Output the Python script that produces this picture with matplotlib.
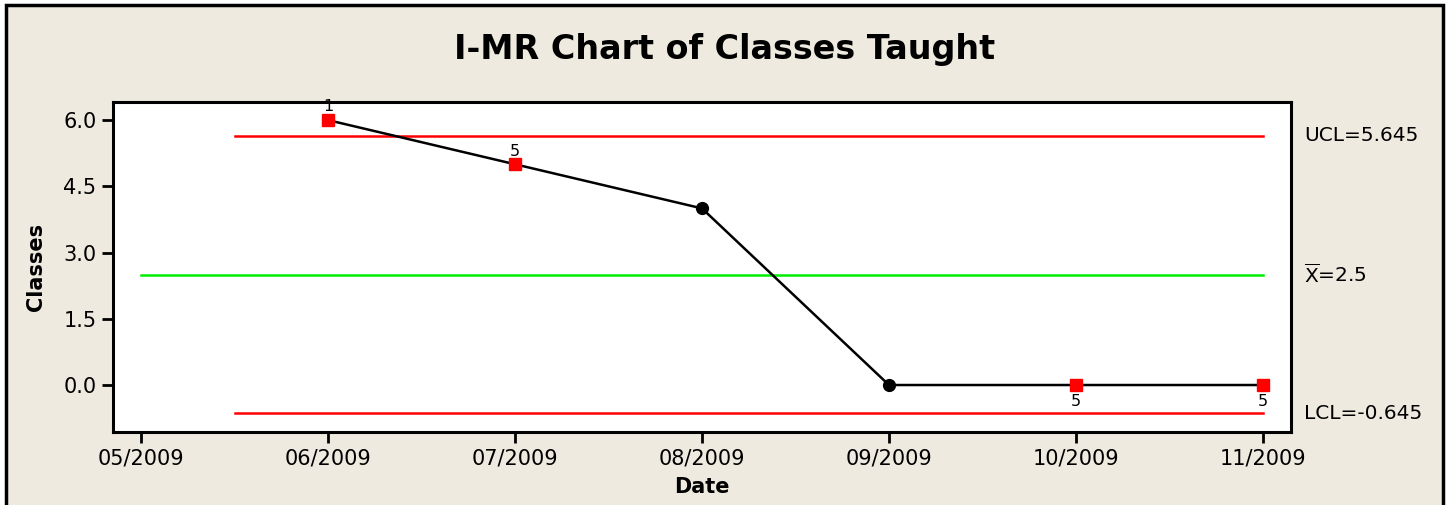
import matplotlib
matplotlib.use("Agg")
import matplotlib.pyplot as plt
from matplotlib.patches import Rectangle

plt.rcParams["font.family"] = ["DejaVu Sans"]

# data
months = ["05/2009", "06/2009", "07/2009", "08/2009", "09/2009", "10/2009", "11/2009"]
classes = [6.0, 5.0, 4.0, 0.0, 0.0, 0.0]          # observations from 06/2009 on
flagged = [True, True, False, False, True, True]   # red squares = failed tests
flag_text = ["1", "5", "", "", "5", "5"]
ucl = 5.645
center = 2.5
lcl = -0.645

bg = "#eeeae0"

fig = plt.figure(figsize=(14.5, 5.05), dpi=100, facecolor="white")
# beige panel with black frame
fig.patches.append(Rectangle((6 / 1450, -0.05), 1437 / 1450, 1.05 - 5 / 505,
                             transform=fig.transFigure, facecolor=bg,
                             edgecolor="black", linewidth=2.5, zorder=-10))

ax = fig.add_axes([113 / 1450, 1 - 432 / 505, (1291 - 113) / 1450, (432 - 102) / 505])
ax.set_zorder(5)
ax.set_facecolor("white")

xs = list(range(1, len(classes) + 1))
ax.plot(xs, classes, color="black", linewidth=1.8, zorder=3)
for x, y, f, t in zip(xs, classes, flagged, flag_text):
    if f:
        ax.plot(x, y, marker="s", color="red", markersize=9, zorder=4)
    else:
        ax.plot(x, y, marker="o", color="black", markersize=8.5, zorder=4)
    if t:
        if y > center:
            ax.text(x, y + 0.13, t, ha="center", va="bottom", fontsize=11.5, zorder=5)
        else:
            ax.text(x, y - 0.2, t, ha="center", va="top", fontsize=11.5, zorder=5)

# control limits
ax.plot([0.5, 6], [ucl, ucl], color="red", linewidth=1.8, zorder=2)
ax.plot([0.5, 6], [lcl, lcl], color="red", linewidth=1.8, zorder=2)
ax.plot([0, 6], [center, center], color="#00ee00", linewidth=1.8, zorder=2)

ax.set_xlim(-0.15, 6.15)
ax.set_ylim(-1.064, 6.41)
ax.set_xticks(range(len(months)))
ax.set_xticklabels(months)
ax.set_yticks([0.0, 1.5, 3.0, 4.5, 6.0])
ax.set_yticklabels(["0.0", "1.5", "3.0", "4.5", "6.0"])
ax.tick_params(direction="out", length=8, width=2, labelsize=15, pad=4)
for s in ax.spines.values():
    s.set_linewidth(2.2)

ax.set_xlabel("Date", fontsize=15, fontweight="bold", labelpad=6)
ax.set_ylabel("Classes", fontsize=15, fontweight="bold", labelpad=12)

# limit labels to the right of the plot
ax.text(1.011, (ucl + 1.064) / 7.474, "UCL=5.645", transform=ax.transAxes,
        va="center", ha="left", fontsize=14.5)
ax.text(1.011, (center + 1.064) / 7.474, r"$\overline{\rm X}$=2.5", transform=ax.transAxes,
        va="center", ha="left", fontsize=14.5)
ax.text(1.011, (lcl + 1.064) / 7.474, "LCL=-0.645", transform=ax.transAxes,
        va="center", ha="left", fontsize=14.5)

fig.text(725 / 1450, 1 - 50 / 505, "I-MR Chart of Classes Taught", ha="center", va="center",
         fontsize=24, fontweight="bold")

fig.savefig("out.png", dpi=100, facecolor="white")
